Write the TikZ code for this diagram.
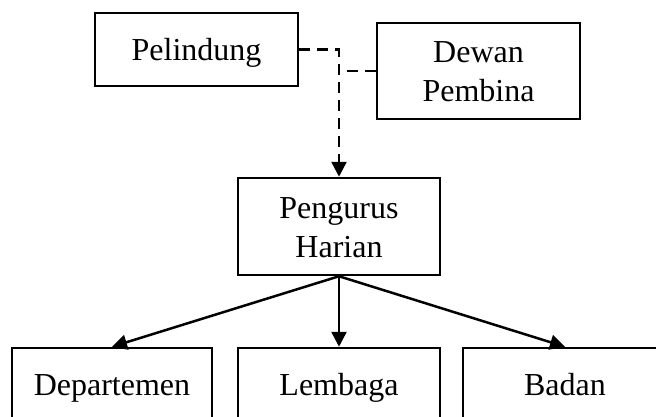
\documentclass[tikz,border=0pt]{standalone}
\usepackage{fontspec}
\setmainfont{Liberation Serif}
\usetikzlibrary{arrows.meta}
\newcommand\bxstrut{\rule[-6pt]{0pt}{34pt}}
\begin{document}
\begin{tikzpicture}[x=1pt,y=-1pt,
  box/.style={draw, line width=2.5pt, align=center, inner sep=0pt,
    font=\fontsize{32}{39}\selectfont},
  dashlink/.style={line width=2.5pt, dash pattern=on 11pt off 7pt},
  solidlink/.style={line width=2.5pt},
  tip/.style={-{Triangle[length=15pt,width=15pt]}}]
\useasboundingbox (0,0) rectangle (656,416);
\clip (0,0) rectangle (656,416);
\node[box, minimum width=203pt, minimum height=73pt] (pel) at (196.5,49.5) {\bxstrut Pelindung\bxstrut};
\node[box, minimum width=203pt, minimum height=96pt] (dew) at (478.5,71) {\bxstrut Dewan\\Pembina\bxstrut};
\node[box, minimum width=202pt, minimum height=97pt] (pen) at (339,226.5) {\bxstrut Pengurus\\Harian\bxstrut};
\node[box, minimum width=200pt, minimum height=73pt] (dep) at (112,384.5) {\bxstrut Departemen\bxstrut};
\node[box, minimum width=202pt, minimum height=73pt] (lem) at (339,384.5) {\bxstrut Lembaga\bxstrut};
\node[box, minimum width=204pt, minimum height=73pt] (bad) at (565,384.5) {\bxstrut Badan\bxstrut};
\coordinate (j1) at (pen.north |- pel.east);
\coordinate (j2) at (pen.north |- dew.west);
\draw[dashlink, tip] (pel.east) -- (j1) -- (pen.north);
\draw[dashlink] (dew.west) -- (j2);
\draw[solidlink, tip] (pen.south) -- (dep.north);
\draw[solidlink, tip] (pen.south) -- (lem.north);
\draw[solidlink, tip] (pen.south) -- (bad.north);
\end{tikzpicture}
\end{document}
